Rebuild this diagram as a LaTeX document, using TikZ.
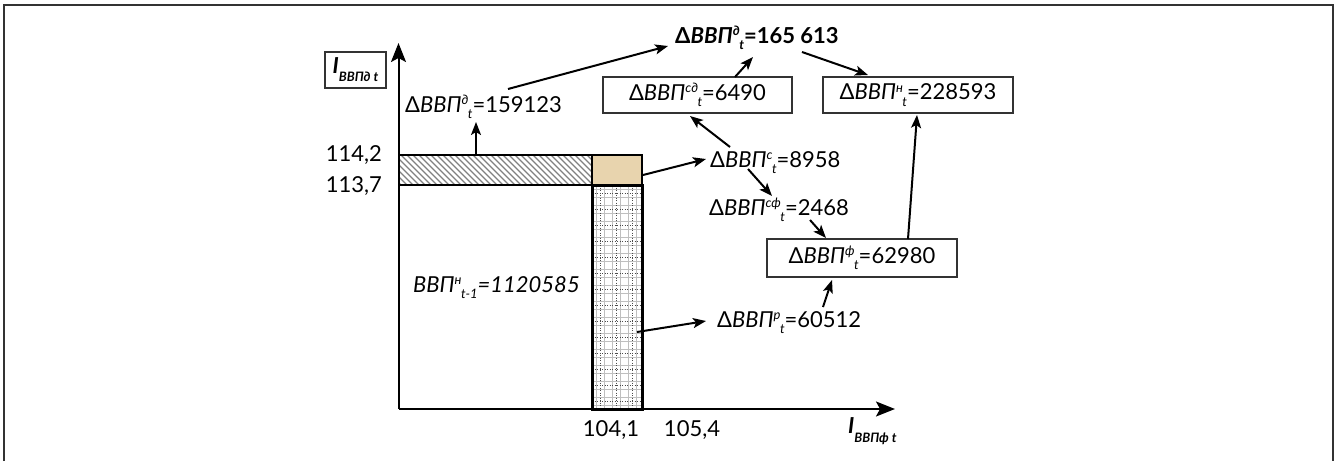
\documentclass[tikz,border=0pt]{standalone}
\usepackage{fontspec}
\setmainfont{Lato}
\usetikzlibrary{arrows.meta}
\newcommand\supsb[2]{\raisebox{7.5pt}{\fontsize{13}{13}\selectfont\itshape #1}\kern-0.5pt\raisebox{-6.5pt}{\fontsize{13}{13}\selectfont\itshape #2}}
\newcommand\vvp{\textit{ВВП}}
\definecolor{tan}{HTML}{E8D4AE}
\definecolor{frame}{HTML}{333333}
\tikzset{
  lbl/.style={inner sep=0pt, anchor=base west, font=\fontsize{22}{24}\selectfont},
  num/.style={inner sep=0pt, font=\fontsize{22}{24}\selectfont},
  valbox/.style={draw=black!80, line width=1.3pt, inner sep=0pt, font=\fontsize{22}{24}\selectfont},
  arr/.style={line width=2pt, -{Stealth[length=13pt,width=10pt,inset=3pt]}},
  axis/.style={line width=2pt, -{Stealth[length=19pt,width=15pt,inset=4pt]}},
}
\begin{document}
\begin{tikzpicture}[x=1pt,y=-1pt]
\useasboundingbox (0,0) rectangle (1336,461);
% frame
\draw[frame, line width=2pt] (4,461) -- (4,5) -- (1333,5) -- (1333,461);

% hatched bar
\begin{scope}
\clip (399,155) rectangle (592,185);
\foreach \i in {-40,-34,...,200} \draw[gray, line width=1.2pt] (399+\i,155) -- (429+\i,185);
\end{scope}
\draw[line width=2.5pt] (399,155) rectangle (592,185);
% tan box
\fill[tan] (592,155) rectangle (642,185);
\draw[line width=2.5pt] (592,155) rectangle (642,185);
% grid bar
\begin{scope}
\clip (592,185) rectangle (642,409);
\foreach \i in {0,8,...,56} \draw[gray!50, line width=1pt] (596+\i,185) -- (596+\i,409);
\foreach \i in {0,8,...,232} \draw[gray!50, line width=1pt] (592,189+\i) -- (642,189+\i);
\foreach \i in {0,16,...,56} \draw[black!70, line width=0.5pt, dotted] (600+\i,185) -- (600+\i,409);
\foreach \i in {0,16,...,232} \draw[black!70, line width=0.5pt, dotted] (592,193+\i) -- (642,193+\i);
\end{scope}
\draw[line width=3pt] (592,185) rectangle (642,409);

% axes
\coordinate (O) at (398.5,409);
\coordinate (Ytip) at (398.5,43);
\coordinate (Xtip) at (895,409);
\draw[axis] (O) -- (Ytip);
\draw[axis] (O) -- (Xtip);

% axis labels
\node[draw=black!80, line width=1.3pt, minimum width=61pt, minimum height=36pt, inner sep=0pt] (ylab) at (355.5,70)
  {{\fontsize{22}{22}\selectfont\bfseries\itshape I}\raisebox{-8pt}{\fontsize{13}{13}\selectfont\bfseries\itshape ВВПд t}};
\node[inner sep=0pt, anchor=base west] (xlab) at (848,433)
  {{\fontsize{22}{22}\selectfont\bfseries\itshape I}\raisebox{-9pt}{\fontsize{13}{13}\selectfont\bfseries\itshape ВВПф t}};

% tick labels
\node[num, anchor=east] (y1) at (382,155) {114,2};
\node[num, anchor=east] (y2) at (382,186) {113,7};
\node[num] (x1) at (611,430) {104,1};
\node[num] (x2) at (692,430) {105,4};

% value labels
\node[lbl] (d1) at (405,112) {Δ\vvp\supsb{д}{t}=159123};
\node[lbl, font=\fontsize{22}{24}\selectfont\bfseries] (top) at (675,43) {Δ\vvp\supsb{д}{t}=165 613};
\node[lbl] (c) at (710,167) {Δ\vvp\supsb{с}{t}=8958};
\node[lbl] (cf) at (709,215) {Δ\vvp\supsb{сф}{t}=2468};
\node[lbl] (p) at (717,327) {Δ\vvp\supsb{р}{t}=60512};
\node[lbl] (n1) at (413,292) {\textit{ВВП\supsb{н}{t-1}=1120585}};

% boxes
\node[valbox, minimum width=189pt, minimum height=36pt] (sd) at (697.5,95) {Δ\vvp\supsb{сд}{t}=6490};
\node[valbox, minimum width=190pt, minimum height=36pt] (h) at (918,95) {Δ\vvp\supsb{н}{t}=228593};
\node[valbox, minimum width=190pt, minimum height=38pt] (f) at (862,258) {Δ\vvp\supsb{ф}{t}=62980};

% connector points
\coordinate (hatchTop) at (476,155);
\coordinate (d1Tip) at (476,122);
\coordinate (d1Out) at (508,89);
\coordinate (topIn) at (668,46);
\coordinate (sdOut) at (735,77);
\coordinate (topIn2) at (753,57);
\coordinate (topOut) at (802,52);
\coordinate (hIn) at (868,75);
\coordinate (fOut) at (908,239);
\coordinate (hIn2) at (917,115);
\coordinate (cOut) at (730,147);
\coordinate (sdIn) at (690,116);
\coordinate (tanOut) at (643,175);
\coordinate (cIn) at (706,159);
\coordinate (cOut2) at (748,169);
\coordinate (cfIn) at (772,196);
\coordinate (cfOut) at (810,220);
\coordinate (fIn) at (826,238);
\coordinate (gridOut) at (637,332);
\coordinate (pIn) at (706,321);
\coordinate (pOut) at (823,307);
\coordinate (fIn2) at (832,280);

\draw[arr] (hatchTop) -- (d1Tip);
\draw[arr] (d1Out) -- (topIn);
\draw[arr] (sdOut) -- (topIn2);
\draw[arr] (topOut) -- (hIn);
\draw[arr] (fOut) -- (hIn2);
\draw[arr] (cOut) -- (sdIn);
\draw[arr] (tanOut) -- (cIn);
\draw[arr] (cOut2) -- (cfIn);
\draw[arr] (cfOut) -- (fIn);
\draw[arr] (gridOut) -- (pIn);
\draw[arr] (pOut) -- (fIn2);
\end{tikzpicture}
\end{document}
